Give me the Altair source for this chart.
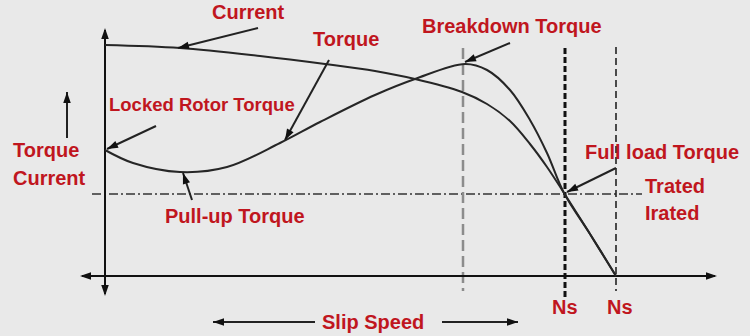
import math
import altair as alt
import pandas as pd

# ---- data (chart coordinates) ----
current_x = [105, 180, 260, 325, 375, 415, 462, 487, 510, 530, 547, 564, 590, 616]
current_y = [45, 48, 56, 64, 71, 79, 92, 104, 121, 144, 167, 193, 234, 276]

torque_x = [105, 133, 180, 227, 280, 320, 375, 415, 465, 487, 510, 530, 547, 564, 590, 616]
torque_y = [150, 163, 172, 167, 143, 122, 95, 79, 64, 70, 90, 120, 153, 193, 234, 276]

# annotation arrows: tail (x, y) -> tip (x2, y2)
ann_x = [258, 329, 156, 510, 192, 616, 67, 315, 442]
ann_y = [28, 60, 126, 43, 200, 168, 138, 322, 322]
ann_x2 = [178, 285, 107, 465, 183, 567, 67, 213, 518]
ann_y2 = [48, 140, 149, 62, 173, 192, 92, 322, 322]

# axes
vaxis_x, vaxis_y, vaxis_y2 = 105, 30, 294
haxis_y, haxis_x, haxis_x2 = 276, 82, 715
axis_tip_x = [105, 105, 80, 717]
axis_tip_y = [28, 296, 276, 276]
axis_from_x = [105, 105, 105, 105]
axis_from_y = [276, 276, 276, 276]

# reference lines
breakdown_x, ns1_x, ns2_x = 463, 565, 616
rated_y = 194

labels = ["Current", "Torque", "Breakdown Torque", "Locked Rotor Torque",
          "Torque", "Current", "Pull-up Torque", "Full load Torque",
          "Trated", "Irated", "Ns", "Ns", "Slip Speed"]
label_x = [212, 313, 422, 109, 13, 13, 165, 585, 645, 645, 552, 607, 322]
label_y = [19, 46, 33, 111, 157, 185, 223, 159, 193, 220, 314, 314, 329]
label_size = [20, 20, 20, 18.5, 20, 20, 20, 20, 20, 20, 20, 20, 20]

# ---- tables ----
curves = pd.concat([
    pd.DataFrame({"x": current_x, "y": current_y, "s": "Current"}),
    pd.DataFrame({"x": torque_x, "y": torque_y, "s": "Torque"}),
])
arrows = pd.DataFrame({"x": ann_x, "y": ann_y, "x2": ann_x2, "y2": ann_y2})

heads = pd.concat([
    pd.DataFrame({"fx": ann_x, "fy": ann_y, "x": ann_x2, "y": ann_y2}),
    pd.DataFrame({"fx": axis_from_x, "fy": axis_from_y, "x": axis_tip_x, "y": axis_tip_y}),
], ignore_index=True)
heads["angle"] = [
    (math.degrees(math.atan2(x - fx, -(y - fy))) + 360) % 360
    for fx, fy, x, y in zip(heads.fx, heads.fy, heads.x, heads.y)
]

axes = pd.DataFrame({
    "x": [vaxis_x, haxis_x], "x2": [vaxis_x, haxis_x2],
    "y": [vaxis_y, haxis_y], "y2": [vaxis_y2, haxis_y],
})
texts = pd.DataFrame({"t": labels, "x": label_x, "y": label_y, "size": label_size})

XS = alt.Scale(domain=[0, 750], nice=False, zero=False)
YS = alt.Scale(domain=[0, 336], nice=False, zero=False, reverse=True)


def X(f="x"):
    return alt.X(f"{f}:Q", scale=XS, axis=None)


def Y(f="y"):
    return alt.Y(f"{f}:Q", scale=YS, axis=None)


def vline(xv, y1, y2, color, width, dash):
    d = pd.DataFrame({"x": [xv], "y": [y1], "y2": [y2]})
    return alt.Chart(d).mark_rule(color=color, strokeWidth=width, strokeDash=dash).encode(
        x=X(), y=Y(), y2="y2:Q")


lines = alt.Chart(curves).mark_line(
    color="#262626", strokeWidth=2, interpolate="catmull-rom").encode(
    x=X(), y=Y(), detail="s:N", order="x:Q")

axis_rules = alt.Chart(axes).mark_rule(color="#111111", strokeWidth=2).encode(
    x=X(), y=Y(), x2="x2:Q", y2="y2:Q")

rated = alt.Chart(pd.DataFrame({"x": [92], "x2": [642], "y": [rated_y]})).mark_rule(
    color="#333333", strokeWidth=1.6, strokeDash=[9, 3, 2, 3]).encode(
    x=X(), x2="x2:Q", y=Y())

v_break = vline(breakdown_x, 48, 291, "#8c8c8c", 2.5, [11, 5])
v_ns1 = vline(ns1_x, 48, 300, "#111111", 3, [6, 3])
v_ns2 = vline(ns2_x, 47, 291, "#222222", 1.6, [7, 4])

arrow_lines = alt.Chart(arrows).mark_rule(color="#222222", strokeWidth=2).encode(
    x=X(), y=Y(), x2="x2:Q", y2="y2:Q")

arrow_heads = alt.Chart(heads).mark_point(
    shape="M0,0L-0.75,2.2L0.75,2.2Z", filled=True, opacity=1, color="#111111", size=100,
    strokeWidth=0).encode(
    x=X(), y=Y(), angle=alt.Angle("angle:Q", scale=None))

text = alt.Chart(texts).mark_text(
    align="left", baseline="alphabetic", font="Liberation Sans", fontWeight="bold",
    color="#c0161e").encode(
    x=X(), y=Y(), text="t:N", size=alt.Size("size:Q", scale=None))

chart = alt.layer(
    rated, v_break, v_ns1, v_ns2, axis_rules, lines, arrow_lines, arrow_heads, text
).properties(
    width=750, height=336, background="#e9e9e9", padding=0,
    autosize=alt.AutoSizeParams(type="none"),
).configure_view(stroke=None)

chart.save("out.html", embed_options={"renderer": "svg", "actions": False})
